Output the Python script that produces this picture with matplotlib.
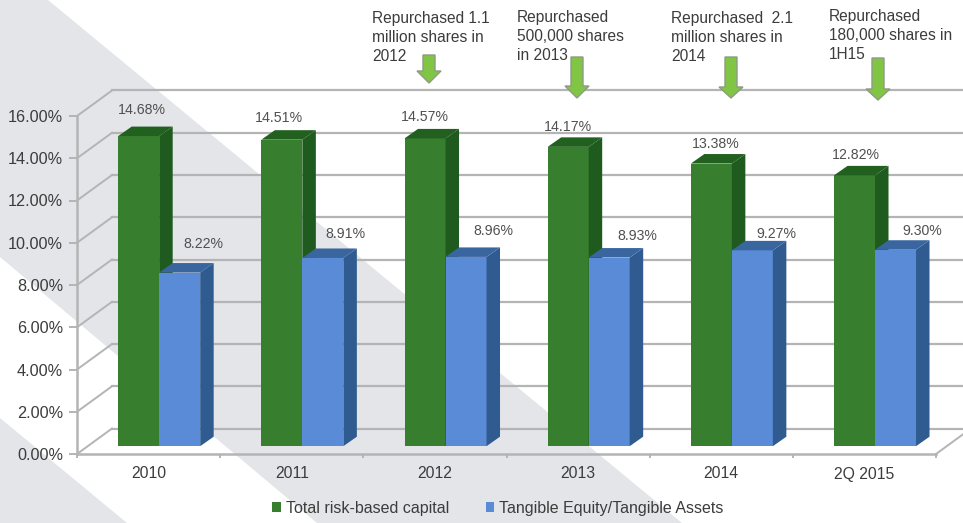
# -*- coding: utf-8 -*-
"""
Capital ratios 2010 - 2Q 2015, fake 3D bars
"""
import matplotlib
matplotlib.use('Agg')
import matplotlib.pyplot as plt
from matplotlib.patches import Polygon

#%% data
categories = ['2010', '2011', '2012', '2013', '2014', '2Q 2015']
total_capital = [14.68, 14.51, 14.57, 14.17, 13.38, 12.82]
tangible_equity = [8.22, 8.91, 8.96, 8.93, 9.27, 9.30]
ytick_values = [0, 2, 4, 6, 8, 10, 12, 14, 16]

notes = ['Repurchased 1.1\nmillion shares in\n2012',
         'Repurchased\n500,000 shares\nin 2013',
         'Repurchased  2.1\nmillion shares in\n2014',
         'Repurchased\n180,000 shares in\n1H15']

#%% layout, everything in pixels of the 963x523 picture
W, H = 963, 523
AX_L, AX_R, AX_TOP, AX_BOT = 77, 936, 116, 454
note_pos = [(372, 11), (517, 10), (671, 11), (829, 9)]
arrow_pos = [(429, 55, 71, 83, 12, 24), (577, 57, 86, 98, 12, 24),
             (731, 57, 87, 98, 12, 24), (878, 58, 89, 100, 12, 24)]
green_label_pos = [(142, 110), (279, 118), (425, 117), (568, 127), (716, 144), (856, 155)]
blue_label_pos = [(203, 244), (345, 234), (493, 231), (637, 236), (776, 234), (922, 231)]

plt.rcParams['font.family'] = ['Liberation Sans', 'DejaVu Sans']
TEXT = '#3c3c3c'
LABEL = '#505050'
GRID = '#b4b4b4'


def fx(x):
    return x / W


def fy(y):
    return 1 - y / H


fig = plt.figure(figsize=(W / 100, H / 100), dpi=100, facecolor='white')

# diagonal background bands
band_gray = '#e3e5e9'
fig.patches.append(Polygon([(fx(0), fy(0)), (fx(48), fy(0)), (fx(682), fy(523)), (fx(317), fy(523)), (fx(0), fy(257))],
                           closed=True, transform=fig.transFigure, fc=band_gray, ec='none', zorder=-2))
fig.patches.append(Polygon([(fx(0), fy(418)), (fx(127), fy(523)), (fx(0), fy(523))],
                           closed=True, transform=fig.transFigure, fc=band_gray, ec='none', zorder=-2))

ax = fig.add_axes([fx(AX_L), fy(AX_BOT), (AX_R - AX_L) / W, (AX_BOT - AX_TOP) / H])
ax.patch.set_alpha(0)
ax.set_xlim(0, len(categories))
ax.set_ylim(0, 16)

# pixel sizes in data units
px_x = len(categories) / (AX_R - AX_L)
px_y = 16 / (AX_BOT - AX_TOP)

wall_dx = 35 * px_x
wall_dy = 25.5 * px_y
for v in ytick_values:
    ax.plot([0, wall_dx], [v, v + wall_dy], color=GRID, lw=1.4, clip_on=False, zorder=1)
    ax.plot([wall_dx, 7], [v + wall_dy, v + wall_dy], color=GRID, lw=1.6, clip_on=False, zorder=1)
ax.plot([6, 6 + wall_dx], [0, wall_dy], color=GRID, lw=1.4, clip_on=False, zorder=1)

#%% bars
bar_w = 41 * px_x
base = 7.8 * px_y
shift = 10.6 * px_x
depth_x = 13.5 * px_x
depth_y = 9.5 * px_y


def bars_3d(xs, values, front, side, top, label):
    bars = ax.bar(xs, values, width=bar_w, bottom=base, align='edge', color=front, label=label, zorder=3)
    for x, v in zip(xs, values):
        y = base + v
        ax.fill([x + bar_w, x + bar_w + depth_x, x + bar_w + depth_x, x + bar_w],
                [base, base + depth_y, y + depth_y, y], color=side, lw=0, zorder=3)
        ax.fill([x, x + depth_x, x + bar_w + depth_x, x + bar_w],
                [y, y + depth_y, y + depth_y, y], color=top, lw=0, zorder=3)
    return bars


centers = [i + 0.5 + shift for i in range(len(categories))]
green_x = [c - bar_w for c in centers]
blue_x = centers
bars_3d(green_x, total_capital, '#377f2e', '#1f5a1f', '#22601f', 'Total risk-based capital')
bars_3d(blue_x, tangible_equity, '#5a8bd7', '#2f5b90', '#3a66a0', 'Tangible Equity/Tangible Assets')

#%% axes
for s in ['top', 'right']:
    ax.spines[s].set_visible(False)
for s in ['left', 'bottom']:
    ax.spines[s].set_color(GRID)
    ax.spines[s].set_linewidth(1.8)
ax.set_yticks(ytick_values)
ax.set_yticklabels(['%.2f%%' % v for v in ytick_values], fontsize=11.7, color=TEXT)
ax.tick_params(axis='y', length=6, width=1.4, color=GRID, pad=4)
ax.set_xticks(range(len(categories) + 1))
ax.set_xticklabels([])
ax.tick_params(axis='x', which='major', length=3, width=1.4, color=GRID)
ax.set_xticks([i + 0.5 for i in range(len(categories))], minor=True)
ax.set_xticklabels(categories, minor=True, fontsize=11.3, color=TEXT)
ax.tick_params(axis='x', which='minor', length=0, pad=9)

#%% labels and notes
for v, (x, y) in zip(total_capital, green_label_pos):
    fig.text(fx(x), fy(y), '%.2f%%' % v, fontsize=10.2, color=LABEL, ha='center', va='center')
for v, (x, y) in zip(tangible_equity, blue_label_pos):
    fig.text(fx(x), fy(y), '%.2f%%' % v, fontsize=10.2, color=LABEL, ha='center', va='center')
for s, (x, y) in zip(notes, note_pos):
    fig.text(fx(x), fy(y), s, fontsize=11.2, color=TEXT, ha='left', va='top', linespacing=1.34)

for cx, top, neck, tip, shaft, head in arrow_pos:
    pts = [(cx - shaft / 2, top), (cx + shaft / 2, top), (cx + shaft / 2, neck), (cx + head / 2, neck),
           (cx, tip), (cx - head / 2, neck), (cx - shaft / 2, neck)]
    fig.patches.append(Polygon([(fx(a), fy(b)) for a, b in pts], closed=True, transform=fig.transFigure,
                               fc='#80c544', ec='#8f9a86', lw=1.0, zorder=5))

ax.legend(loc='center left', bbox_to_anchor=(fx(272), fy(508)), bbox_transform=fig.transFigure, ncol=2,
          frameon=False, fontsize=11.5, labelcolor=TEXT, handlelength=0.55, handleheight=0.55,
          handletextpad=0.3, columnspacing=2.3, borderpad=0, borderaxespad=0)

plt.savefig('out.png', dpi=100)
